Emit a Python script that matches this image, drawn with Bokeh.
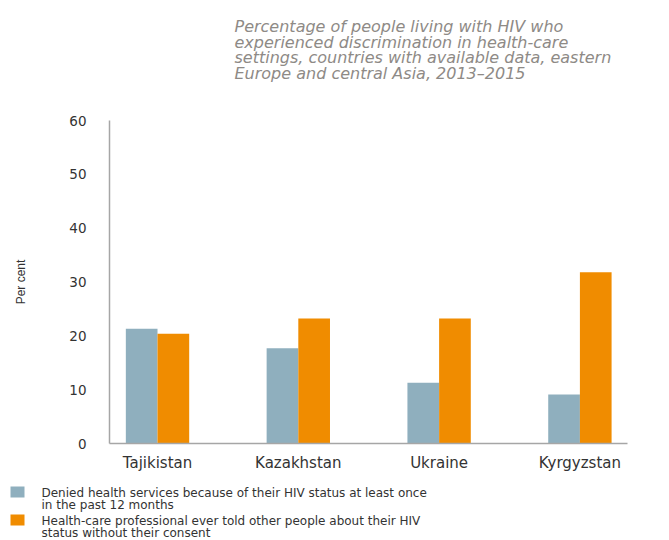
import numpy as np
from bokeh.plotting import figure
from bokeh.layouts import column
from bokeh.models import Range1d, FixedTicker
from bokeh.core.properties import value
from bokeh.embed import file_html
from bokeh.resources import INLINE

countries = ["Tajikistan", "Kazakhstan", "Ukraine", "Kyrgyzstan"]
denied = [21.3, 17.7, 11.3, 9.1]
disclosed = [20.4, 23.2, 23.2, 31.8]
series_labels = [
    ["Denied health services because of their HIV status at least once", "in the past 12 months"],
    ["Health-care professional ever told other people about their HIV", "status without their consent"],
]
title_lines = [
    "Percentage of people living with HIV who",
    "experienced discrimination in health-care",
    "settings, countries with available data, eastern",
    "Europe and central Asia, 2013\u20132015",
]
y_ticks = [0, 10, 20, 30, 40, 50, 60]

BLUE = "#8fafbe"
ORANGE = "#f08c00"
FONT = "DejaVu Sans"
W = 669
TITLE_H, MAIN_H, LEG_H = 108, 370, 62


def blank(h):
    f = figure(width=W, height=h, output_backend="svg", toolbar_location=None,
               x_axis_type=None, y_axis_type=None, title=None,
               x_range=Range1d(0, W), y_range=Range1d(h, 0),
               min_border=0, min_border_left=0, min_border_right=0,
               min_border_top=0, min_border_bottom=0)
    f.frame_align = False
    f.outline_line_color = None
    f.xgrid.visible = False
    f.ygrid.visible = False
    f.background_fill_color = "white"
    f.border_fill_color = "white"
    return f


# ---- title ----
t = blank(TITLE_H)
t.text(x=[234] * len(title_lines), y=[26 + 15.5 * i for i in range(len(title_lines))],
       text=title_lines, text_font=value(FONT), text_font_style="italic",
       text_font_size="16px", text_color="#8e8a86",
       text_baseline="alphabetic", text_align="left")

# ---- main chart ----
p = figure(width=W, height=MAIN_H, output_backend="svg", toolbar_location=None,
           title=None, min_border_left=109, min_border_right=42,
           min_border_top=12, min_border_bottom=35,
           x_range=Range1d(-0.341, 3.338), y_range=Range1d(0, 60))
p.frame_align = False
p.outline_line_color = None
p.background_fill_color = "white"
p.border_fill_color = "white"
p.xgrid.visible = False
p.ygrid.visible = False

xs = np.arange(len(countries))
bw = 0.225
p.vbar(x=xs - bw / 2, top=denied, width=bw, bottom=0, fill_color=BLUE, line_color=None)
p.vbar(x=xs + bw / 2, top=disclosed, width=bw, bottom=0, fill_color=ORANGE, line_color=None)

xa = p.xaxis[0]
xa.ticker = FixedTicker(ticks=list(xs))
xa.major_label_overrides = {int(i): c for i, c in zip(xs, countries)}
xa.major_tick_line_color = None
xa.minor_tick_line_color = None
xa.axis_line_color = "#a6a6a6"
xa.axis_line_width = 1.5
xa.major_label_text_font = FONT
xa.major_label_text_font_size = "15px"
xa.major_label_text_color = "#333333"
xa.major_label_standoff = 4

ya = p.yaxis[0]
ya.ticker = FixedTicker(ticks=y_ticks)
ya.major_tick_line_color = None
ya.minor_tick_line_color = None
ya.axis_line_color = "#a6a6a6"
ya.axis_line_width = 1.5
ya.major_label_text_font = FONT
ya.major_label_text_font_size = "13.5px"
ya.major_label_text_color = "#333333"
ya.major_label_standoff = 17
ya.axis_label = "Per cent"
ya.axis_label_text_font = "Liberation Sans"
ya.axis_label_text_font_style = "normal"
ya.axis_label_text_font_size = "12px"
ya.axis_label_text_color = "#333333"
ya.axis_label_standoff = 38

# ---- legend ----
lg = blank(LEG_H)
colors = [BLUE, ORANGE]
block_tops = [8, 36]
lg.quad(left=[10, 10], right=[24, 24], top=block_tops, bottom=[b + 11 for b in block_tops],
        fill_color=colors, line_color=None)
lx, ly, lt = [], [], []
for k, lines in enumerate(series_labels):
    for j, line in enumerate(lines):
        lx.append(41)
        ly.append(block_tops[k] + 6 + 12.3 * j)
        lt.append(line)
lg.text(x=lx, y=ly, text=lt, text_font=value(FONT), text_font_size="12px",
        text_color="#333333", text_baseline="middle", text_align="left")

layout = column(t, p, lg, spacing=0)
open("out.html", "w").write(file_html(layout, INLINE))
